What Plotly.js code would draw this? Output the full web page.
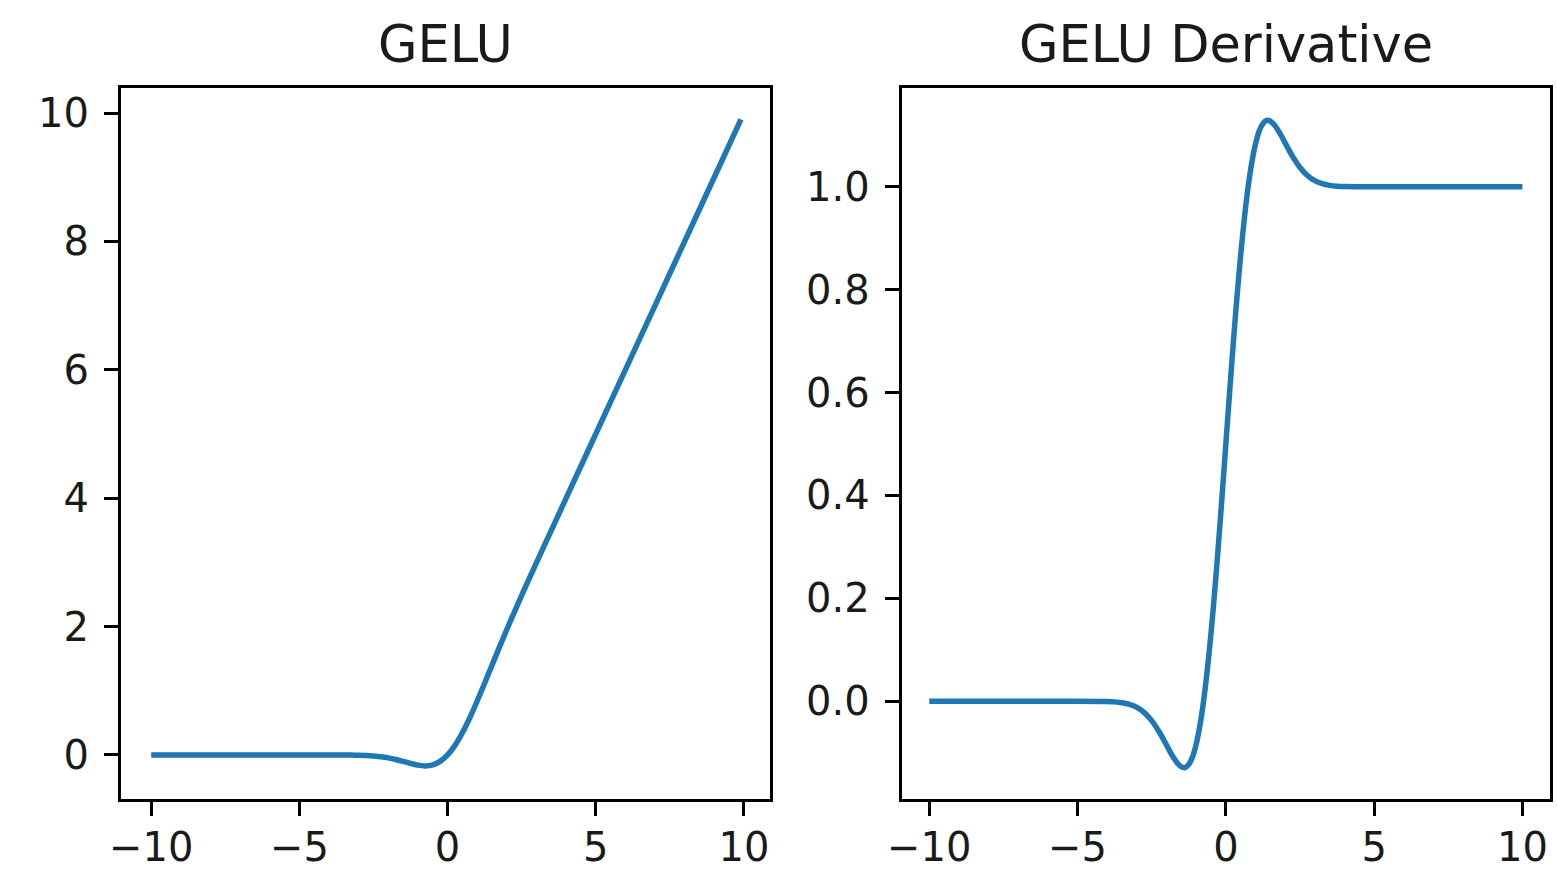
<!DOCTYPE html>
<html>
<head>
<meta charset="utf-8">
<script src="https://cdn.plot.ly/plotly-3.0.1.min.js"></script>
<style>
  html, body { margin: 0; padding: 0; background: #ffffff; }
  #chart { width: 1557px; height: 869px; }
</style>
</head>
<body>
<div id="chart"></div>
<script>
// GELU curve values
const geluX = [-10, -8, -6, -5, -4, -3.75, -3.5, -3.25, -3, -2.75, -2.5, -2.25, -2, -1.75, -1.5, -1.25, -1, -0.75, -0.5, -0.25, 0, 0.25, 0.5, 0.75, 1, 1.25, 1.5, 1.75, 2, 2.25, 2.5, 2.75, 3, 3.25, 3.5, 3.75, 4, 5, 6, 7, 8, 9, 9.9];
const geluY = [0, 0, 0, 0, -0.0001, -0.0003, -0.0008, -0.0019, -0.004, -0.0082, -0.0155, -0.0275, -0.0455, -0.0702, -0.1002, -0.132, -0.1587, -0.17, -0.1543, -0.1003, 0, 0.1497, 0.3457, 0.58, 0.8413, 1.118, 1.3998, 1.6798, 1.9545, 2.2225, 2.4845, 2.7418, 2.996, 3.2481, 3.4992, 3.7497, 3.9999, 5.0, 6.0, 7.0, 8.0, 9.0, 9.9];

// GELU derivative values
const dgeluX = [-10, -8, -6, -5, -4, -3.75, -3.5, -3.25, -3, -2.75, -2.5, -2.25, -2, -1.875, -1.75, -1.625, -1.5, -1.375, -1.25, -1.125, -1, -0.875, -0.75, -0.625, -0.5, -0.375, -0.25, -0.125, 0, 0.125, 0.25, 0.375, 0.5, 0.625, 0.75, 0.875, 1, 1.125, 1.25, 1.375, 1.5, 1.625, 1.75, 1.875, 2, 2.25, 2.5, 2.75, 3, 3.25, 3.5, 3.75, 4, 5, 6, 8, 10];
const dgeluY = [0, 0, 0, 0, -0.0005, -0.0012, -0.0028, -0.006, -0.0119, -0.022, -0.0376, -0.0592, -0.0852, -0.0987, -0.1109, -0.121, -0.1275, -0.129, -0.1227, -0.1085, -0.0833, -0.0472, 0.0008, 0.0609, 0.1325, 0.2144, 0.3046, 0.4008, 0.5, 0.5992, 0.6954, 0.7856, 0.8675, 0.9391, 0.9992, 1.0472, 1.0833, 1.1085, 1.1227, 1.129, 1.1275, 1.121, 1.1109, 1.0987, 1.0852, 1.0592, 1.0376, 1.022, 1.0119, 1.006, 1.0028, 1.0012, 1.0005, 1.0, 1.0, 1.0, 1.0];

const titles = ["GELU", "GELU Derivative"];
const leftYTicks = [0, 2, 4, 6, 8, 10];
const rightYTicks = [0.0, 0.2, 0.4, 0.6, 0.8, 1.0];
const xTicks = [-10, -5, 0, 5, 10];

const lineColor = '#1f77b4';
const fontFam = 'DejaVu Sans, sans-serif';

const traces = [
  { x: geluX, y: geluY, type: 'scatter', mode: 'lines', xaxis: 'x', yaxis: 'y',
    line: { color: lineColor, width: 5.5, shape: 'spline', smoothing: 0.8 }, hoverinfo: 'skip' },
  { x: dgeluX, y: dgeluY, type: 'scatter', mode: 'lines', xaxis: 'x2', yaxis: 'y2',
    line: { color: lineColor, width: 5.5, shape: 'spline', smoothing: 0.8 }, hoverinfo: 'skip' }
];

const axisCommon = {
  showline: true, mirror: true, linecolor: '#000', linewidth: 3,
  ticks: 'outside', ticklen: 14, tickwidth: 3, tickcolor: '#000',
  showgrid: false, zeroline: false,
  tickfont: { family: fontFam, size: 40, color: '#1a1a1a' }
};

const W = 1557;
const mL = 121, mR = 7;
const plotW = W - mL - mR;
const d1 = [0, (770 - 121) / plotW];
const d2 = [(901.7 - 121) / plotW, 1];
const minusLabel = v => v < 0 ? '\u2212' + Math.abs(v) : String(v);

const layout = {
  width: 1557, height: 869,
  margin: { l: mL, r: mR, t: 88, b: 70 },
  paper_bgcolor: '#ffffff', plot_bgcolor: '#ffffff',
  showlegend: false,
  font: { family: fontFam, color: '#1a1a1a' },
  xaxis: Object.assign({}, axisCommon, { domain: d1, range: [-11.02, 10.88], tickvals: xTicks, ticktext: xTicks.map(minusLabel), anchor: 'y', ticklabelstandoff: -3 }),
  yaxis: Object.assign({}, axisCommon, { range: [-0.686, 10.39], tickvals: leftYTicks, ticktext: leftYTicks.map(String), anchor: 'x', ticklabelstandoff: 7 }),
  xaxis2: Object.assign({}, axisCommon, { domain: d2, range: [-10.93, 10.93], tickvals: xTicks, ticktext: xTicks.map(minusLabel), anchor: 'y2', ticklabelstandoff: -3 }),
  yaxis2: Object.assign({}, axisCommon, { range: [-0.19, 1.192], tickvals: rightYTicks, ticktext: rightYTicks.map(v => v.toFixed(1)), anchor: 'x2', ticklabelstandoff: 7 }),
  annotations: [
    { text: titles[0], xref: 'paper', yref: 'paper', x: (d1[0] + d1[1]) / 2, y: 1, xanchor: 'center', yanchor: 'bottom', yshift: 12, showarrow: false, font: { family: fontFam, size: 51, color: '#1a1a1a' } },
    { text: titles[1], xref: 'paper', yref: 'paper', x: (d2[0] + d2[1]) / 2, y: 1, xanchor: 'center', yanchor: 'bottom', yshift: 12, showarrow: false, font: { family: fontFam, size: 51, color: '#1a1a1a' } }
  ]
};

Plotly.newPlot('chart', traces, layout, { staticPlot: true, displayModeBar: false });
</script>
</body>
</html>
